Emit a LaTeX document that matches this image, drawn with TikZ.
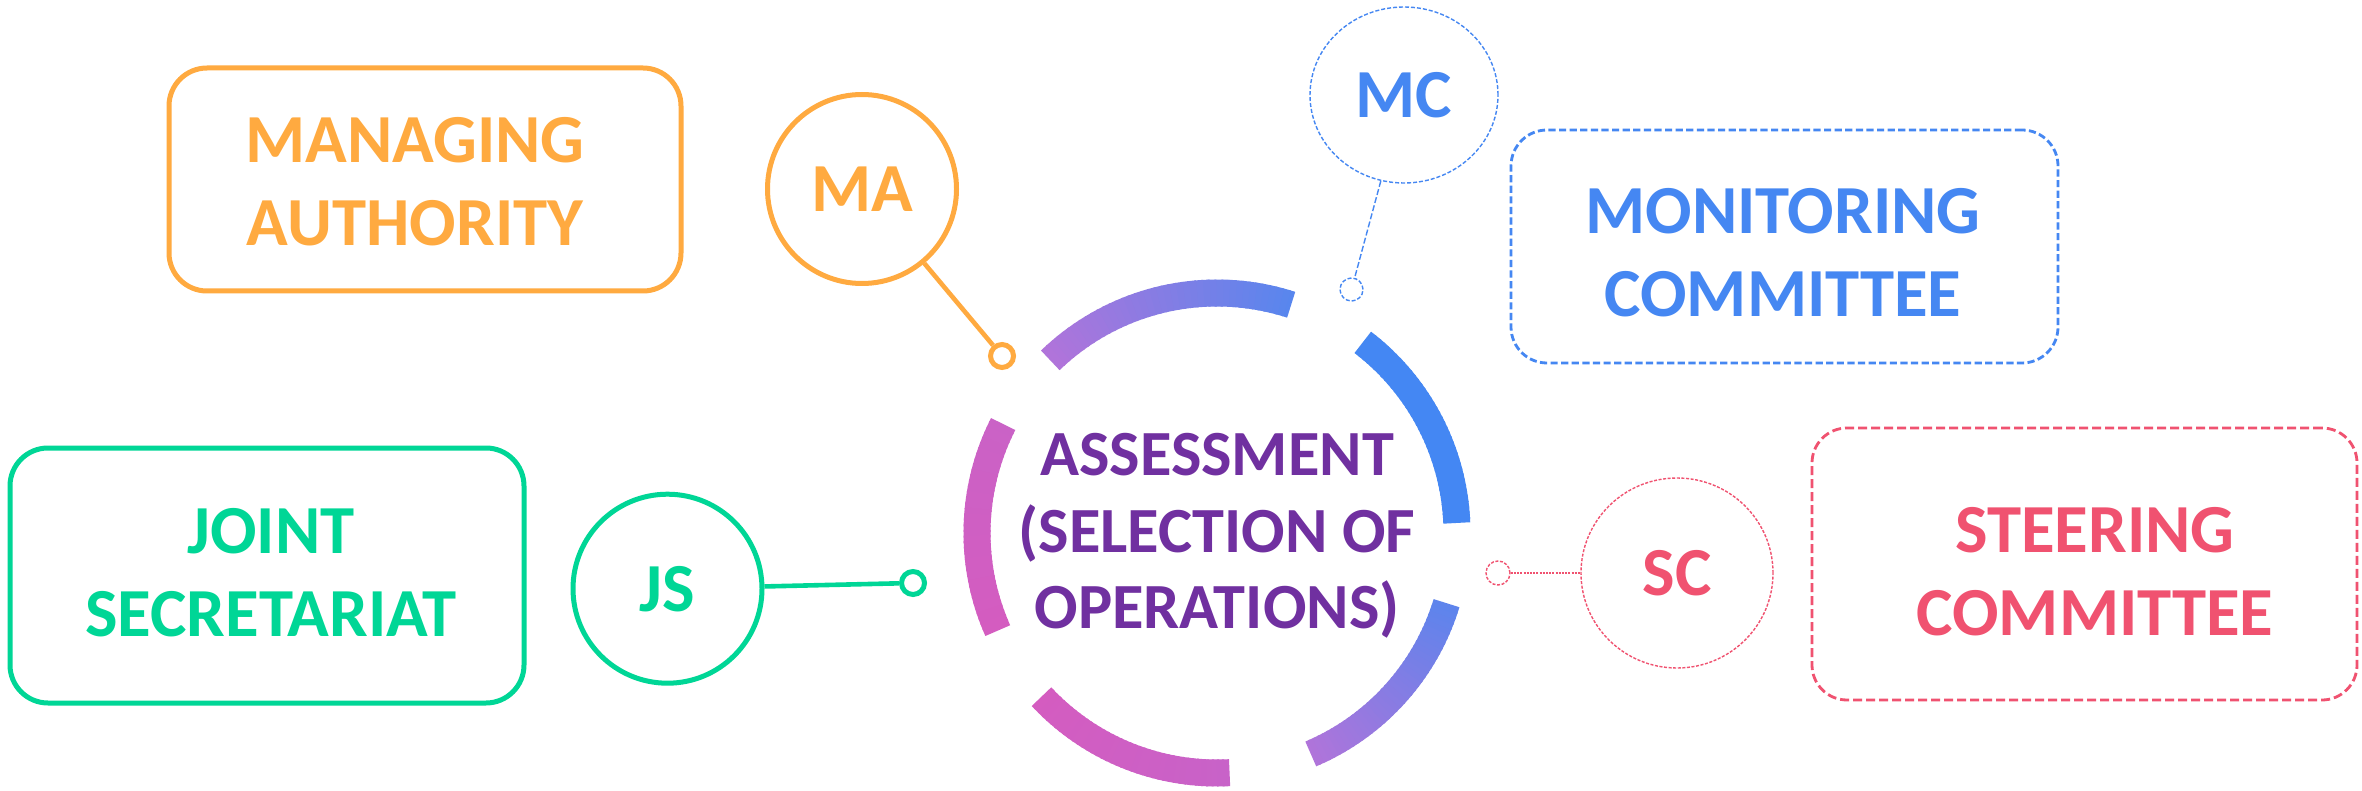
\documentclass[tikz,border=0pt]{standalone}
\usepackage{fontspec}
\setmainfont{Carlito}
\usetikzlibrary{shapes.geometric,calc}
\definecolor{cOrange}{RGB}{255,170,64}
\definecolor{cGreen}{RGB}{0,214,150}
\definecolor{cBlue}{RGB}{69,135,242}
\definecolor{cPink}{RGB}{240,82,112}
\definecolor{cPurple}{RGB}{112,48,160}
\definecolor{gBlue}{RGB}{68,135,243}
\definecolor{gBlueB}{RGB}{88,134,238}
\definecolor{gBlueC}{RGB}{94,132,236}
\definecolor{gLilac}{RGB}{176,116,218}
\definecolor{gMag}{RGB}{212,92,192}
\definecolor{gMagB}{RGB}{200,98,200}
\definecolor{gMagC}{RGB}{202,98,198}
\tikzset{
  ringseg/.style={line width=13.5pt},
  solidbox/.style={draw, line width=2.5pt, rounded corners=19pt, inner sep=0pt},
  dashbox/.style={draw, line width=1.4pt, dash pattern=on 3.6pt off 1.7pt, rounded corners=18pt, inner sep=0pt},
  boxtext/.style={font=\bfseries\fontsize{34.4}{41.5}\selectfont, align=center, inner sep=0pt, anchor=north},
  bigcirc/.style={circle, draw, line width=2.5pt, minimum size=94.5pt, inner sep=0pt, font=\bfseries\fontsize{34.4}{41.5}\selectfont},
  dashell/.style={ellipse, draw, line width=0.7pt, dash pattern=on 2pt off 1pt, inner sep=0pt, font=\bfseries\fontsize{34.4}{41.5}\selectfont},
  dot/.style={circle, draw, inner sep=0pt, minimum size=11.5pt},
}
\newcommand{\gradarc}[4]{%
  \foreach \k in {0,...,39}{%
    \pgfmathsetmacro{\aa}{#1+(#2-#1)*\k/40}%
    \pgfmathsetmacro{\bb}{#1+(#2-#1)*(\k+1)/40}%
    \pgfmathsetmacro{\ab}{\k==0 ? \aa : \aa-0.5*sign(#2-#1)}%
    \pgfmathsetmacro{\pc}{100-100*\k/39}%
    \draw[ringseg, color=#3!\pc!#4] ($(ctr)+(-\ab:240)$) arc[start angle=-\ab, end angle=-\bb, radius=240];
  }}
\begin{document}
\begin{tikzpicture}[x=0.5pt, y=-0.5pt]
\useasboundingbox (0,0) rectangle (2362,791);
\fill[white] (0,0) rectangle (2362,791);
% ring
\coordinate (ctr) at (1217,533);
\gradarc{72}{134}{gBlueB}{gLilac}
\gradarc{2.4}{52.6}{gBlue}{gBlue}
\gradarc{-67}{-17}{gLilac}{gBlueC}
\gradarc{223}{273}{gMag}{gMagB}
\gradarc{153}{204}{gMagC}{gMag}
\node[font=\bfseries\fontsize{32.2}{38.25}\selectfont, align=center, inner sep=0pt, anchor=north, text=cPurple] (assess) at (1217,433) {ASSESSMENT\\(SELECTION OF\\OPERATIONS)};
% Managing authority
\node[solidbox, cOrange, minimum width=256pt, minimum height=111.5pt] (mabox) at (425,179.5) {};
\node[boxtext, text=cOrange] (matext) at (415,117) {MANAGING\\AUTHORITY};
\node[bigcirc, cOrange] (ma) at (862,189) {MA};
\node[dot, cOrange, line width=2.5pt] (madot) at (1002,356) {};
\draw[cOrange, line width=2.3pt] (ma) -- (madot);
% Joint secretariat
\node[solidbox, cGreen, minimum width=257pt, minimum height=127.5pt] (jsbox) at (267,575.5) {};
\node[boxtext, text=cGreen] (jstext) at (271,507.5) {JOINT\\SECRETARIAT};
\node[bigcirc, cGreen] (js) at (667.5,588.7) {JS};
\node[dot, cGreen, line width=2.5pt] (jsdot) at (913,583) {};
\draw[cGreen, line width=2.3pt] (js) -- (jsdot);
% Monitoring committee
\node[dashbox, cBlue, minimum width=273.5pt, minimum height=116.5pt] (mcbox) at (1784.5,246.5) {};
\node[boxtext, text=cBlue] (mctext) at (1783,188) {MONITORING\\COMMITTEE};
\node[dashell, cBlue, minimum width=94pt, minimum height=88pt] (mc) at (1404,95) {MC};
\node[dot, cBlue, line width=0.7pt, dash pattern=on 2pt off 1pt] (mcdot) at (1351.5,289.5) {};
\draw[cBlue, line width=0.7pt, dash pattern=on 3pt off 1.2pt] (mc) -- (mcdot);
% Steering committee
\node[dashbox, cPink, rounded corners=17.5pt, dash pattern=on 4.5pt off 2pt, minimum width=272.5pt, minimum height=136pt] (scbox) at (2084.5,564) {};
\node[boxtext, text=cPink] (sctext) at (2095,507) {STEERING\\COMMITTEE};
\node[dashell, cPink, minimum width=96pt, minimum height=95pt, dash pattern=on 1.5pt off 0.8pt] (sc) at (1677,573) {SC};
\node[dot, cPink, line width=0.7pt, minimum size=12pt, dash pattern=on 1.5pt off 0.8pt] (scdot) at (1498,573) {};
\draw[cPink, line width=0.8pt, dash pattern=on 1pt off 0.6pt] (scdot) -- (sc);
\end{tikzpicture}
\end{document}
